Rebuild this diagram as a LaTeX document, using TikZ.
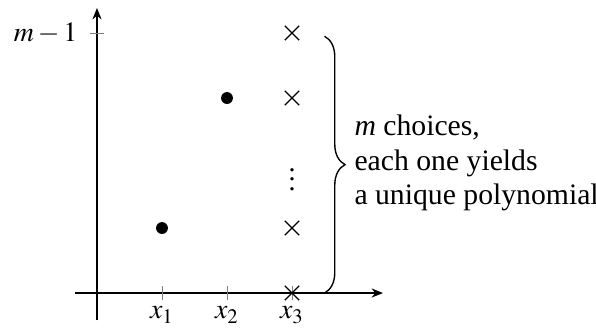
\documentclass[tikz,border=0pt]{standalone}
\usepackage{mathptmx}
\usepackage{fontspec}
\setmainfont{Liberation Serif}
\usetikzlibrary{decorations.pathreplacing,arrows.meta}
\begin{document}
\begin{tikzpicture}[x=1cm,y=1cm,
  axis/.style={-{Stealth[length=5pt,width=4pt]},line width=0.5pt},
  tickmark/.style={gray,line width=0.4pt},
  crossmark/.style={line width=0.5pt},
  dotmark/.style={fill=black,draw=none},
  lbl/.style={font=\fontsize{13}{15}\selectfont,inner sep=1pt},
  mlbl/.style={font=\fontsize{12.2}{14}\selectfont,inner sep=1pt}]
\useasboundingbox (-1.492,-0.554) rectangle (7.677,4.508);
% axes
\coordinate (xs) at (-0.34,0);
\coordinate (xe) at (4.4,0);
\coordinate (ys) at (0,-0.42);
\coordinate (ye) at (0,4.385);
\draw[axis] (xs) -- (xe);
\draw[axis] (ys) -- (ye);
% ticks
\foreach \i in {1,2,3} {
  \coordinate (t\i) at (\i,0);
  \draw[tickmark] ([yshift=-3pt]t\i) -- ([yshift=3pt]t\i);
  \node[mlbl,anchor=north] (lx\i) at (\i,-0.17) {$x_{\i}$};
}
\coordinate (ty) at (0,4);
\draw[tickmark] ([xshift=-3pt]ty) -- ([xshift=3pt]ty);
\node[mlbl,anchor=east] (ly) at (-0.26,4) {$m-1$};
% crosses
\foreach \y [count=\k] in {0,1,3,4} {
  \coordinate (c\k) at (3,\y);
  \draw[crossmark] ([shift={(-0.11,-0.11)}]c\k) -- ([shift={(0.11,0.11)}]c\k)
                   ([shift={(-0.11,0.11)}]c\k) -- ([shift={(0.11,-0.11)}]c\k);
}
\node[mlbl] (vd) at (3,1.85) {$\vdots$};
% dots
\fill[dotmark] (1,1) circle (2.6pt);
\fill[dotmark] (2,3) circle (2.6pt);
% brace
\coordinate (bt) at (3.5,3.95);
\coordinate (bb) at (3.5,0);
\draw[decorate,decoration={brace,amplitude=9pt},line width=0.6pt] (bt) -- (bb);
\node[lbl,anchor=west,align=left] (txt) at (3.92,2.0) {\textit{m} choices,\\each one yields\\a unique polynomial};
\end{tikzpicture}
\end{document}
